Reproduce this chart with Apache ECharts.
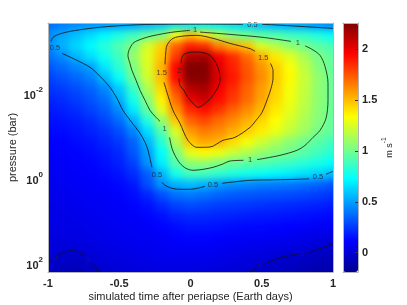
<!DOCTYPE html>
<html><head><meta charset="utf-8">
<script src="https://cdn.jsdelivr.net/npm/echarts@6/dist/echarts.min.js"></script>
<style>
html,body{margin:0;padding:0;background:#fff}
#wrap{position:relative;width:407px;height:305px;overflow:hidden}
#clip{position:absolute;left:48px;top:23px;width:285px;height:249px;overflow:hidden}
#field{position:absolute;left:-48px;top:-23px;width:407px;height:305px;filter:blur(3.5px)}
#c{position:absolute;left:0;top:0;width:407px;height:305px}
</style>
</head><body><div id="wrap"><div id="clip"><div id="field"></div></div><div id="c"></div></div>
<script>
// ---- data ----
const timeCols = [-1,-0.9,-0.8,-0.7,-0.6,-0.5,-0.4,-0.3,-0.2,-0.1,0,0.1,0.2,0.3,0.4,0.5,0.6,0.7,0.8,0.9,1];
// log10(pressure / bar), top to bottom
const logPressureRows = [-3.6,-3.35,-3.1,-2.85,-2.6,-2.35,-2.1,-1.85,-1.6,-1.35,-1.1,-0.85,-0.6,-0.35,-0.1,0.15,0.4,0.65,0.9,1.15,1.4,1.65,1.9,2.15];
// wind speed (m s-1), one row per pressure level, one column per time
const windSpeed = [
 [0.38,0.42,0.45,0.47,0.48,0.5,0.52,0.55,0.6,0.66,0.7,0.7,0.68,0.65,0.62,0.58,0.55,0.52,0.5,0.47,0.44],
 [0.45,0.52,0.58,0.65,0.72,0.8,0.88,0.97,1.04,1.33,1.5,1.4,1.17,1.05,1.0,0.95,0.92,0.88,0.85,0.8,0.75],
 [0.45,0.54,0.63,0.72,0.82,0.92,1.03,1.24,1.45,1.72,1.88,1.85,1.65,1.55,1.48,1.25,1.17,1.08,1.01,0.95,0.9],
 [0.38,0.45,0.55,0.65,0.76,0.88,1.08,1.27,1.48,1.82,2.15,2.17,1.98,1.85,1.7,1.53,1.39,1.27,1.14,1.02,0.96],
 [0.32,0.37,0.43,0.5,0.67,0.83,1.03,1.25,1.52,1.95,2.26,2.25,2.02,1.88,1.75,1.6,1.46,1.33,1.19,1.05,0.97],
 [0.27,0.31,0.36,0.42,0.56,0.74,0.98,1.22,1.5,1.93,2.24,2.24,2.04,1.9,1.76,1.62,1.47,1.35,1.21,1.08,0.98],
 [0.23,0.26,0.3,0.35,0.44,0.6,0.86,1.14,1.43,1.8,2.12,2.16,1.98,1.85,1.72,1.58,1.45,1.32,1.2,1.07,0.98],
 [0.2,0.22,0.26,0.31,0.38,0.53,0.78,1.05,1.37,1.7,2.0,2.08,1.93,1.82,1.7,1.56,1.43,1.31,1.19,1.07,0.98],
 [0.17,0.19,0.22,0.27,0.33,0.45,0.68,0.96,1.27,1.6,1.85,1.92,1.83,1.72,1.62,1.51,1.39,1.28,1.17,1.06,0.98],
 [0.15,0.16,0.18,0.22,0.28,0.37,0.54,0.8,1.08,1.47,1.72,1.78,1.7,1.62,1.53,1.44,1.34,1.24,1.14,1.05,0.97],
 [0.13,0.14,0.16,0.19,0.23,0.3,0.43,0.65,0.93,1.25,1.58,1.66,1.62,1.54,1.46,1.38,1.29,1.2,1.11,1.01,0.96],
 [0.11,0.12,0.14,0.16,0.2,0.25,0.35,0.55,0.82,1.15,1.48,1.55,1.52,1.42,1.32,1.22,1.14,1.06,1.0,0.94,0.88],
 [0.1,0.11,0.12,0.14,0.17,0.21,0.32,0.49,0.73,1.02,1.28,1.35,1.3,1.22,1.15,1.09,1.04,1.0,0.94,0.88,0.82],
 [0.09,0.1,0.11,0.12,0.15,0.19,0.27,0.46,0.69,0.93,1.07,1.08,1.03,0.97,0.95,0.92,0.89,0.86,0.82,0.78,0.73],
 [0.08,0.09,0.1,0.11,0.13,0.16,0.22,0.34,0.55,0.78,0.88,0.88,0.84,0.8,0.77,0.75,0.72,0.69,0.66,0.62,0.57],
 [0.07,0.08,0.09,0.1,0.11,0.13,0.17,0.3,0.46,0.54,0.57,0.54,0.49,0.46,0.44,0.42,0.41,0.4,0.38,0.35,0.32],
 [0.06,0.07,0.08,0.09,0.1,0.11,0.14,0.2,0.3,0.38,0.4,0.38,0.35,0.33,0.32,0.31,0.3,0.29,0.28,0.26,0.24],
 [0.05,0.06,0.07,0.08,0.09,0.1,0.12,0.15,0.21,0.27,0.29,0.28,0.26,0.25,0.24,0.23,0.22,0.21,0.2,0.19,0.18],
 [0.05,0.05,0.06,0.07,0.08,0.09,0.1,0.12,0.15,0.19,0.21,0.21,0.2,0.19,0.18,0.17,0.17,0.16,0.15,0.14,0.13],
 [0.04,0.05,0.05,0.06,0.07,0.08,0.09,0.1,0.12,0.14,0.16,0.16,0.15,0.14,0.13,0.13,0.12,0.11,0.1,0.09,0.08],
 [0.03,0.03,0.04,0.05,0.06,0.07,0.08,0.08,0.09,0.11,0.12,0.12,0.11,0.1,0.09,0.09,0.08,0.07,0.06,0.04,0.02],
 [0.02,0.015,0.01,0.02,0.04,0.05,0.06,0.07,0.08,0.09,0.09,0.09,0.08,0.07,0.06,0.05,0.04,0.03,0.01,-0.01,-0.03],
 [0.0,-0.03,-0.04,-0.005,0.02,0.03,0.04,0.05,0.06,0.06,0.06,0.06,0.05,0.04,0.02,0.01,-0.01,-0.03,-0.05,-0.07,-0.08],
 [-0.04,-0.07,-0.08,-0.05,-0.01,0.01,0.02,0.03,0.04,0.04,0.04,0.03,0.02,0.01,0.0,-0.02,-0.04,-0.06,-0.08,-0.1,-0.12]
];
// contour lines [time, log10 p], split where labels sit
const contour0 = [
 [[-1,1.962],[-0.972,1.904]],
 [[-0.930,1.798],[-0.888,1.728],[-0.846,1.693],[-0.790,1.705],[-0.747,1.810]],
 [[-0.691,1.986],[-0.635,2.19]],
 [[0.418,2.19],[0.460,2.103]],
 [[0.516,2.009],[0.649,1.838],[0.747,1.775]],
 [[0.825,1.728],[0.909,1.641],[1,1.524]]
];
const contour05 = [
 [[1.0,-3.524],[0.768,-3.571],[0.593,-3.606],[0.502,-3.618]],
 [[0.368,-3.618],[0.067,-3.623],[-0.214,-3.618],[-0.354,-3.611],[-0.565,-3.571],[-0.705,-3.524],[-0.846,-3.454],[-0.916,-3.395],[-0.965,-3.313],[-0.979,-3.219]],
 [[-0.902,-2.938],[-0.811,-2.797],[-0.705,-2.610],[-0.635,-2.399],[-0.565,-2.141],[-0.516,-1.883],[-0.474,-1.601],[-0.418,-1.343],[-0.354,-1.062],[-0.319,-0.851],[-0.298,-0.664],[-0.277,-0.359],[-0.270,-0.265]],
 [[-0.200,0.087],[-0.179,0.157],[-0.130,0.227],[-0.074,0.251],[-0.004,0.251],[0.046,0.227],[0.102,0.181]],
 [[0.221,0.110],[0.277,0.087],[0.418,0.040],[0.593,0.028],[0.747,0.016],[0.832,0.005]],
 [[0.951,-0.101],[1.0,-0.171]]
];
const contour1 = [
 [[0.067,-3.437],[0.277,-3.383],[0.509,-3.313],[0.705,-3.219]],
 [[0.804,-3.114],[0.853,-3.032],[0.909,-2.891],[0.944,-2.633],[0.965,-2.234],[0.965,-1.836],[0.951,-1.414],[0.909,-1.132],[0.860,-0.968],[0.804,-0.781],[0.747,-0.664],[0.628,-0.546],[0.467,-0.445]],
 [[0.371,-0.429],[0.277,-0.413],[0.221,-0.335],[0.158,-0.265],[0.088,-0.218],[0.018,-0.195],[-0.032,-0.242],[-0.074,-0.359],[-0.109,-0.546],[-0.130,-0.710],[-0.147,-0.968]],
 [[-0.214,-1.343],[-0.249,-1.461],[-0.284,-1.601],[-0.319,-1.836],[-0.354,-2.070],[-0.382,-2.305],[-0.411,-2.539],[-0.425,-2.703],[-0.439,-2.891],[-0.432,-3.008],[-0.404,-3.172],[-0.368,-3.243],[-0.284,-3.336],[-0.167,-3.414],[-0.109,-3.442],[-0.004,-3.477]]
];
const contour15 = [
 [[-0.179,-2.680],[-0.175,-2.891],[-0.165,-3.125],[-0.123,-3.290],[-0.039,-3.348],[0.046,-3.360],[0.158,-3.290],[0.277,-3.172],[0.418,-3.048],[0.453,-2.985]],
 [[0.561,-2.703],[0.579,-2.539],[0.579,-2.352],[0.565,-2.117],[0.544,-1.906],[0.502,-1.555],[0.460,-1.367],[0.418,-1.203],[0.312,-0.968],[0.228,-0.898],[0.137,-0.741],[0.046,-0.734],[-0.018,-0.898],[-0.074,-1.297],[-0.123,-1.601],[-0.165,-2.023],[-0.186,-2.258]]
];
const contour2 = [
 [[-0.067,-2.703],[-0.053,-2.891],[-0.004,-2.961],[0.046,-2.968],[0.137,-2.891],[0.193,-2.610],[0.207,-2.305],[0.158,-1.953],[0.102,-1.766],[0.053,-1.672],[0.018,-1.766],[-0.018,-1.906],[-0.046,-2.070],[-0.074,-2.188],[-0.081,-2.352]]
];
const contourLabelPos = [[-0.951,1.852],[-0.717,1.899],[0.488,2.049],[0.787,1.758],
  [0.435,-3.606],[-0.951,-3.055],[-0.235,-0.077],[0.158,0.141],[0.895,-0.030],
  [0.032,-3.489],[0.754,-3.184],[0.418,-0.429],[-0.182,-1.156],
  [0.511,-2.837],[-0.202,-2.469],[-0.079,-2.523]];
const contourLabelText = ['0','0','0','0','0.5','0.5','0.5','0.5','0.5','1','1','1','1','1.5','1.5','2'];
const colorMin = -0.19, colorMax = 2.26;
const colorbarTicks = [0, 0.5, 1, 1.5, 2];
const pressureTickExps = [-2, 0, 2];
const jetColors = ['#00008F','#0000FF','#0080FF','#00FFFF','#80FF80','#FFFF00','#FF8000','#FF0000','#800000'];

// ---- shared layout ----
const FONT = "'Liberation Sans', Arial, Helvetica, sans-serif";
const TXT = '#262626';
const FRAME = '#b4b4b4';
const plotGrid = { left: 48, top: 23, width: 285, height: 249, outerBoundsMode: 'none' };
const xRange = { min: -1, max: 1 };
const yRange = { min: -3.65, max: 2.19, inverse: true };

// ---- field layer (smoothed by a CSS blur on its own canvas) ----
const cells = [];
for (let j = 0; j < logPressureRows.length; j++)
  for (let i = 0; i < timeCols.length; i++)
    cells.push([timeCols[i], logPressureRows[j], windSpeed[j][i], i, j]);

function edge(arr, k, side) {
  if (side < 0) return k === 0 ? arr[0] - (arr[1] - arr[0]) / 2 : (arr[k - 1] + arr[k]) / 2;
  return k === arr.length - 1 ? arr[k] + (arr[k] - arr[k - 1]) / 2 : (arr[k] + arr[k + 1]) / 2;
}
function renderCell(params, api) {
  const i = api.value(3), j = api.value(4);
  const p0 = api.coord([edge(timeCols, i, -1), edge(logPressureRows, j, -1)]);
  const p1 = api.coord([edge(timeCols, i, 1), edge(logPressureRows, j, 1)]);
  let x0 = Math.min(p0[0], p1[0]) - 0.5, x1 = Math.max(p0[0], p1[0]) + 0.5;
  let y0 = Math.min(p0[1], p1[1]) - 0.5, y1 = Math.max(p0[1], p1[1]) + 0.5;
  if (i === 0) x0 -= 20;
  if (i === timeCols.length - 1) x1 += 20;
  if (j === 0) y0 -= 20;
  if (j === logPressureRows.length - 1) y1 += 20;
  return { type: 'rect', shape: { x: x0, y: y0, width: x1 - x0, height: y1 - y0 },
           style: { fill: api.visual('color') } };
}
const fieldChart = echarts.init(document.getElementById('field'), null, { renderer: 'canvas' });
fieldChart.setOption({
  animation: false,
  grid: plotGrid,
  visualMap: { type: 'continuous', show: false, min: colorMin, max: colorMax, dimension: 2, seriesIndex: 0,
               inRange: { color: jetColors } },
  xAxis: Object.assign({ type: 'value', show: false }, xRange),
  yAxis: Object.assign({ type: 'value', show: false }, yRange),
  series: [{ type: 'custom', coordinateSystem: 'cartesian2d', data: cells, encode: { x: 0, y: 1 },
             renderItem: renderCell, clip: false, silent: true }]
});

// ---- overlay: axes, contours, labels, colorbar ----
const series = [];
[contour0, contour05, contour1, contour15, contour2].forEach(segs => segs.forEach(seg => {
  series.push({ type: 'line', xAxisIndex: 0, yAxisIndex: 0, data: seg, symbol: 'none', smooth: 0.3,
    lineStyle: { color: '#111', width: 0.8 }, silent: true, z: 5 });
}));
series.push({ type: 'scatter', xAxisIndex: 0, yAxisIndex: 0, data: contourLabelPos, symbolSize: 0, silent: true, z: 6,
  itemStyle: { color: 'rgba(0,0,0,0)' },
  label: { show: true, position: 'inside', formatter: p => contourLabelText[p.dataIndex],
    fontSize: 7.5, fontFamily: FONT, color: '#222' } });
const labelSeriesIndex = series.length - 1;

const tickLabel = { fontFamily: FONT, fontSize: 11, fontWeight: 'bold', color: TXT };
const frameAxis = (extra) => Object.assign({ type: 'value', axisLine: { show: true, onZero: false, lineStyle: { color: FRAME, width: 1 } },
  axisTick: { show: false }, axisLabel: { show: false }, splitLine: { show: false }, z: 10, nameMoveOverlap: false }, extra);

const option = {
  animation: false,
  grid: [
    plotGrid,
    { left: 343, top: 23, width: 15, height: 249, outerBoundsMode: 'none' }
  ],
  visualMap: [{
    type: 'continuous', min: colorMin, max: colorMax, dimension: 1, seriesIndex: labelSeriesIndex,
    inRange: { color: jetColors }, show: true, calculable: false, orient: 'vertical', hoverLink: false,
    left: 343, top: 23, itemWidth: 15, itemHeight: 249, padding: 0, text: null, showLabel: false
  }],
  xAxis: [
    frameAxis(Object.assign({ gridIndex: 0, interval: 0.5, position: 'bottom',
      axisLabel: Object.assign({ show: true, margin: 6 }, tickLabel),
      name: 'simulated time after periapse (Earth days)', nameLocation: 'middle', nameGap: 19,
      nameTextStyle: { fontFamily: FONT, fontSize: 11, color: TXT } }, xRange)),
    frameAxis(Object.assign({ gridIndex: 0, position: 'top' }, xRange)),
    frameAxis({ gridIndex: 1, min: 0, max: 1, position: 'bottom' }),
    frameAxis({ gridIndex: 1, min: 0, max: 1, position: 'top' })
  ],
  yAxis: [
    frameAxis(Object.assign({ gridIndex: 0, position: 'left',
      axisLabel: { show: true, margin: 5, customValues: pressureTickExps,
        formatter: v => '{b|10}{s|' + v + '}',
        rich: { b: Object.assign({ verticalAlign: 'bottom', lineHeight: 16 }, tickLabel),
                s: { fontFamily: FONT, fontSize: 8, fontWeight: 'bold', color: TXT, verticalAlign: 'top', lineHeight: 16 } } },
      name: 'pressure (bar)', nameLocation: 'middle', nameGap: 30,
      nameTextStyle: { fontFamily: FONT, fontSize: 11, color: TXT } }, yRange)),
    frameAxis(Object.assign({ gridIndex: 0, position: 'right' }, yRange)),
    frameAxis({ gridIndex: 1, min: colorMin, max: colorMax, position: 'left' }),
    frameAxis({ gridIndex: 1, min: colorMin, max: colorMax, position: 'right',
      axisTick: { show: true, inside: true, length: 3, customValues: colorbarTicks, lineStyle: { color: '#333' } },
      axisLabel: Object.assign({ show: true, margin: 4, customValues: colorbarTicks }, tickLabel),
      name: '{a|m s}{b|-1}', nameLocation: 'middle', nameRotate: 90, nameGap: 23,
      nameTextStyle: { rich: { a: { fontFamily: FONT, fontSize: 9, color: TXT, verticalAlign: 'bottom', lineHeight: 13 },
                               b: { fontFamily: FONT, fontSize: 6.5, color: TXT, verticalAlign: 'top', lineHeight: 13 } } } })
  ],
  series: series
};
const chart = echarts.init(document.getElementById('c'), null, { renderer: 'canvas' });
chart.setOption(option);
</script>
</body></html>
